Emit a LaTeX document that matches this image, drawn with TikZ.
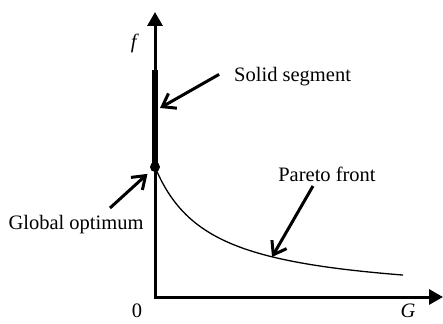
\documentclass[tikz,border=0pt]{standalone}
\usepackage{fontspec}
\setmainfont{Liberation Serif}
\usetikzlibrary{arrows.meta}
\tikzset{
    axisline/.style={{Triangle[length=14pt,width=15pt]}-{Triangle[length=14pt,width=15pt]},line width=3pt,line join=miter},
    solidseg/.style={line width=6pt},
    frontline/.style={line width=1.3pt},
    noteline/.style={-{Straight Barb[length=12pt,width=17pt]},line width=3pt},
    notetext/.style={font=\fontsize{20.5}{24}\selectfont,inner sep=1pt},
    optdot/.style={circle,fill=black,inner sep=0pt,minimum size=10pt}
}

\begin{document}
\begin{tikzpicture}[x=1pt,y=-1pt]
    \useasboundingbox (0,0) rectangle (443,323);
    \coordinate (o) at (155,297);
    \coordinate (ftip) at (155,12);
    \coordinate (gtip) at (443,297);
    \coordinate (segtop) at (155,70);
    \draw[axisline] (ftip) -- (o) -- (gtip);
    \node[optdot] (gopt) at (155,167) {};
    \draw[solidseg] (segtop) -- (gopt.center);
    \draw[frontline] plot[domain=155:403,samples=80] (\x,{299-7258/(\x-100)});
    \node[notetext] (flab) at (135,43) {\textit{f}};
    \node[notetext] (glab) at (408,311) {\textit{G}};
    \node[notetext] (zero) at (137,311) {0};
    \node[notetext,anchor=west] (soltxt) at (233,77) {Solid segment};
    \node[notetext] (partxt) at (327,174) {Pareto front};
    \node[notetext] (gotxt) at (76,225) {Global optimum};
    \coordinate (soltip) at (160,108);
    \coordinate (partip) at (272,257);
    \coordinate (gotail) at (110,208);
    \draw[noteline,shorten <=16pt] (soltxt.north west) -- (soltip);
    \draw[noteline,shorten >=5pt] (gotail) -- (gopt);
    \draw[noteline,shorten <=4pt] ([xshift=-12pt]partxt.south) -- (partip);
\end{tikzpicture}
\end{document}
